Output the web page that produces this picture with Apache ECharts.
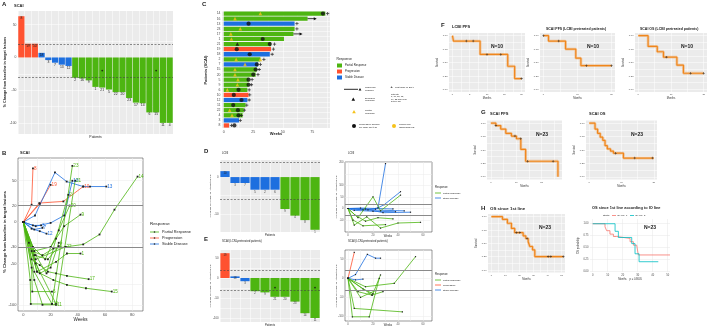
<!DOCTYPE html>
<html>
<head>
<meta charset="utf-8">
<script src="https://cdn.jsdelivr.net/npm/echarts@6/dist/echarts.min.js"></script>
<style>
html,body{margin:0;padding:0;background:#fff;}
#chart{width:709px;height:327px;}
</style>
</head>
<body>
<div id="chart"></div>
<script>
// ---- A: best change in target lesions (SCAI) ----
var waterfallIds  = ['8','19','10','18','3','7','13','12','2','16','9','1','21','5','22','20','23','17','14','6','15','11','4'];
var waterfallPct  = [63, 21, 21, 7, -4, -8, -11, -13, -31, -32, -35, -45, -46, -49, -53, -53, -62, -69, -70, -84, -84, -100, -100];
var waterfallResp = ['PD','PD','PD','SD','SD','SD','SD','SD','PR','PR','PR','PR','PR','PR','PR','PR','PR','PR','PR','PR','PR','PR','PR'];
var starIdsA = ['21','15'];
var starPctA = [-20, -20];

// ---- B: spider plot (SCAI) ----
var spiderIds  = ['8','19','10','13','18','7','12','3','23','21','14','9','1','17','15','6','5','16','2','20','22','11','4'];
var spiderResp = ['PD','PD','PD','SD','SD','SD','SD','SD','PR','PR','PR','PR','PR','PR','PR','PR','PR','PR','PR','PR','PR','PR','PR'];
var spiderWeeks = [
  [0,6,7],[0,12,20],[0,11.7,29.4,44],[0,8.5,23.2,31.8,44,49,61],[0,9,20,30,36],[0,8,14],[0,6,12,17],[0,7,13],
  [0,8,21,36],[0,9,24,38],[0,9,31,44,56,67,84],[0,8,20,30,42],[0,10,24,32,42],[0,6,12,18,24,32,48],
  [0,10,22,32,46,65],[0,6,6.5,21],[0,8,18,26],[0,5,5.4,21],[0,9,17,24,33],[0,7,16,26,34],[0,6,14,22,31],
  [0,8,14,24],[0,4,12,20,26]
];
var spiderPct = [
  [0,21,65],[0,22,45],[0,23,25,43],[0,8,60,49,43,43,43],[0,-5,-1,8,50],[0,-9,-7],[0,-8,-11,-14],[0,-4,-4],
  [0,-60,-99,68],[0,-50,-99,50],[0,-45,-30,-27,-15,15,55],[0,-35,-30,-5,9],[0,-60,-48,-38,-38],[0,-45,-52,-60,-62,-65,-69],
  [0,-60,-70,-76,-80,-84],[0,-55,-84,-84],[0,-40,-45,-29],[0,-70,-99,-99],[0,-40,-62,-20,33],[0,-30,-45,-10,20],[0,-35,-40,-32,-30],
  [0,-70,-100,-100],[0,-25,-62,-55,-25]
];

// ---- C: swimmer plot ----
var swimIds   = ['14','16','13','23','17','1','21','19','18','2','7','15','20','5','9','6','10','12','11','22','4','3','8'];
var swimWeeks = [86,71,60,60,59,51,40,40,39,31,29,28,27,21,21,20,21,20,18.5,17,16,13,4.5];
var swimResp  = ['PR','PR','SD','PR','PR','PR','PR','PD','SD','PR','SD','PR','PR','PR','PR','PR','PD','SD','PR','PR','PR','SD','PD'];
var partialRespWeek = [31,9.5,14,6,6.5,10.5,31,18,9.5,9.5,12,11.5,3,5,7];
var partialRespId   = ['14','16','23','17','1','2','2','7','15','20','5','9','6','22','4'];
var excludedWeek = [11.5];
var excludedId   = ['21'];
var progWeek = [84,21,33,39,11,22,28,27,25,21,21,12.5,8.5,15,8,12,12.5,9];
var progId   = ['14','13','1','21','19','18','7','15','20','5','9','6','10','12','11','22','4','8'];
var lastDoseWeek = [88,62,62,43,42,41,34,31,30,29,24,23.5,21.5,22,21.5,19.5,17.5,15,14,6.5];
var lastDoseId   = ['14','13','23','21','19','18','2','7','15','20','5','9','6','10','12','11','22','4','3','8'];
var ongoingWeek = [71,59];
var ongoingId   = ['16','17'];

// ---- D: LCNI ----
var lcniIds  = ['10','3','7','5','2','6','9','4','8','1'];
var lcniPct  = [8,-8,-8,-17,-17,-17,-43,-52,-58,-71];
var lcniResp = ['SD','SD','SD','SD','SD','SD','PR','PR','PR','PR'];
var lcniWeeks = [[0,16,24,30],[0,22,29,42],[0,12,45],[0,10,36],[0,5,20,38],[0,14,28,50],
                 [0,5,15,26,40,58],[0,8,20,26,42],[0,6,14,24,36],[0,4,12,30]];
var lcniTraj  = [[0,-6,3,195],[0,-3,17,73],[0,-6,-10],[0,2,-2],[0,-8,-12,-14],[0,-2,-18,-16],
                 [0,-72,-36,-85,-63,-60],[0,-40,51,-10,58],[0,-30,-55,-40,-45],[0,-50,-75,-70]];

// ---- E: SCAI in LCNI-pretreated patients ----
var preIds  = ['19','18','3','2','9','21','20','23','14','11'];
var prePct  = [62,4,-8,-33,-36,-47,-47,-59,-88,-100];
var preResp = ['PD','SD','SD','PR','PR','PR','PR','PR','PR','PR'];
var starIdsE = ['21','11'];
var starPctE = [-24,-24];
var preWeeks = [[0,5],[0,6,15.5,22,26],[0,6,12],[0,14,37,54],[0,19.5,26],[0,5,43.5],[0,3.5,17,25],[0,8,19,28],[0,10,22,28],[0,12,20]];
var preTraj  = [[0,68],[0,10,63,53,53],[0,-4,-2],[0,-22,-13,57],[0,-44,9],[0,-79,-88],[0,-101,-101,0],[0,-35,-44,-35],[0,-50,-32,-32],[0,-28,-40]];
var preTrajResp = ['PD','SD','SD','PR','PR','PR','PR','PR','PR','PR'];

// ---- F/G/H: Kaplan-Meier steps ----
var f1Time = [0,0.3,8,16,18,20];            var f1Surv = [1,0.9,0.65,0.43,0.2,0.2];
var f1CensT = [4,6,10,14,20];               var f1CensS = [0.9,0.9,0.65,0.65,0.2];
var f2Time = [0,1.5,6.5,9.5,11,20];         var f2Surv = [1,0.9,0.75,0.58,0.44,0.44];
var f2CensT = [0,4.5,12.6,20];              var f2CensS = [1,0.9,0.44,0.44];
var f3Time = [0,3,5.8,7.7,11.8,13.8,20];    var f3Surv = [1,0.8,0.7,0.6,0.45,0.3,0.3];
var f3CensT = [8.6,16,20];                  var f3CensS = [0.6,0.3,0.3];
var g1Time = [0,2,3.9,5.9,8.1,10.1,11.8,13.7,26.4]; var g1Surv = [1,0.955,0.89,0.81,0.76,0.71,0.51,0.29,0];
var g1CensT = [2,9.5,11.8,14.5,24.5];      var g1CensS = [0.955,0.76,0.71,0.29,0.29];
var g2Time = [0,1.8,2.6,3.4,4.2,4.9,5.6,6.6,7.5,10.6,20]; var g2Surv = [1,0.89,0.81,0.74,0.68,0.58,0.52,0.48,0.44,0.35,0.35];
var g2CensT = [8.2,14.1,19.6];             var g2CensS = [0.44,0.35,0.35];
var h1Time = [0,7.9,11.4,14.3,16.6,22.6,24.5,26.2,27.4,29.3,30.9,51.2];
var h1Surv = [1,0.95,0.876,0.78,0.70,0.64,0.59,0.53,0.44,0.375,0.25,0.25];
var h1CensT = [17.9,20.2,25.4,40.4,42.3,51.2]; var h1CensS = [0.70,0.70,0.59,0.25,0.25,0.25];
var h2aTime = [0,8.2,9.3,11.5,13.8,16,24.9,27.1,29.3,30.4,51.5];
var h2aSurv = [1,0.934,0.853,0.78,0.73,0.69,0.62,0.547,0.51,0.34,0.34];
var h2bTime = [0,14.9,17.1,26,28.2,30.9,43.7];
var h2bSurv = [1,0.84,0.71,0.58,0.365,0.197,0.197];

var FONT = '"Liberation Sans", Arial, sans-serif';
var RED = '#FF5230', BLUE = '#1D6FDF', GREEN = '#4DB511', ORANGE = '#F0861C', YELLOW = '#F6C21A';
var RC = {PR: GREEN, PD: RED, SD: BLUE};
var GRAYBG = '#EBEBEB';
var PLUS = 'path://M3,0H5V3H8V5H5V8H3V5H0V3H3Z';

var chart = echarts.init(document.getElementById('chart'));

function grid(l, t, w, h, bw) {
    return {left: l, top: t, width: w, height: h, show: true, containLabel: false,
        backgroundColor: bw ? '#FFFFFF' : GRAYBG, borderColor: '#333', borderWidth: bw ? 0.5 : 0};
}

function vAxis(gi, min, max, labels, ticks, o) {
    o = o || {};
    return {
        type: 'value', gridIndex: gi, min: min, max: max,
        axisLine: {show: false},
        axisTick: {show: false, customValues: ticks},
        axisLabel: {customValues: labels, fontSize: o.fs || 3, color: '#4D4D4D', margin: 1.5,
            fontFamily: FONT, formatter: o.fmt},
        splitLine: {show: true, lineStyle: {color: o.gc || '#FFFFFF', width: 0.5}},
        name: o.name || '', nameLocation: 'middle', nameGap: o.gap || 5,
        nameTextStyle: {fontSize: 2.6, color: '#333', fontFamily: FONT}
    };
}

function cAxis(gi, data, o) {
    o = o || {};
    return {
        type: 'category', gridIndex: gi, data: data, inverse: !!o.inverse,
        axisLine: {show: false}, axisTick: {show: false},
        axisLabel: {show: !!o.labels, fontSize: 3.4, color: '#4D4D4D', margin: 1.5, interval: 0, fontFamily: FONT},
        splitLine: {show: true, lineStyle: {color: '#FFFFFF', width: 0.5}}
    };
}

function kmFmt(v) { return v.toFixed(2); }

function barSeries(gi, vals, resp, ids, fs) {
    return {
        type: 'bar', xAxisIndex: gi, yAxisIndex: gi, barCategoryGap: '8%',
        data: vals.map(function (v, i) {
            return {value: v, itemStyle: {color: RC[resp[i]]}, label: {position: v > 0 ? 'insideTop' : 'bottom'}};
        }),
        label: {show: true, fontSize: fs, color: '#222', distance: 0.6, fontFamily: FONT,
            formatter: function (p) { return ids[p.dataIndex]; }},
        markLine: {silent: true, symbol: 'none', label: {show: false},
            lineStyle: {type: [2, 1.5], color: '#444', width: 0.6}, data: [{yAxis: 20}, {yAxis: -30}]}
    };
}

function starSeries(gi, ids, vals) {
    return {type: 'scatter', xAxisIndex: gi, yAxisIndex: gi, symbol: 'circle', symbolSize: 1.8,
        itemStyle: {color: '#111'}, z: 5,
        data: ids.map(function (id, i) { return [id, vals[i]]; })};
}

function spiderSeries(gi, weeks, pcts, resp, ids, labelSize, ptSize) {
    return weeks.map(function (w, i) {
        var s = {
            type: 'line', xAxisIndex: gi, yAxisIndex: gi, z: 3,
            data: w.map(function (x, j) { return [x, pcts[i][j]]; }),
            symbol: 'rect', symbolSize: ptSize, itemStyle: {color: '#222'},
            lineStyle: {color: RC[resp[i]], width: 0.8}
        };
        if (ids) {
            s.endLabel = {show: true, color: RC[resp[i]], fontSize: labelSize, distance: 1, fontFamily: FONT,
                formatter: function () { return ids[i]; }};
        }
        return s;
    });
}

function hlines(gi) {
    return {type: 'line', xAxisIndex: gi, yAxisIndex: gi, data: [], z: 2,
        markLine: {silent: true, symbol: 'none', label: {show: false},
            lineStyle: {color: '#8A8A8A', width: 1, type: 'solid'}, data: [{yAxis: 20}, {yAxis: -30}]}};
}

function kmSeries(gi, T, S, color, width, halo) {
    var data = T.map(function (t, i) { return [t, S[i]]; });
    var out = [];
    if (halo) {
        out.push({type: 'line', xAxisIndex: gi, yAxisIndex: gi, step: 'end', symbol: 'none', data: data,
            lineStyle: {color: color, width: width + 1.6, opacity: 0.35}});
    }
    out.push({type: 'line', xAxisIndex: gi, yAxisIndex: gi, step: 'end', symbol: 'none', data: data,
        lineStyle: {color: color, width: width}});
    return out;
}

function censorSeries(gi, T, S, color, size) {
    return {type: 'scatter', xAxisIndex: gi, yAxisIndex: gi, symbol: PLUS, symbolSize: size || 2.4, z: 5,
        itemStyle: {color: color || '#222'},
        data: T.map(function (t, i) { return [t, S[i]]; })};
}

function txt(x, y, s, size, o) {
    o = o || {};
    return {type: 'text', x: x, y: y, rotation: o.rot || 0, z: 100, silent: true,
        style: {text: s, fontSize: size, fontFamily: FONT, fontWeight: o.bold ? 'bold' : 'normal',
            fill: o.color || '#1A1A1A', align: o.align || 'left', verticalAlign: o.va || 'top',
            lineHeight: o.lh || size * 1.1}};
}
function rtxt(x, y, s, size, bold) {
    return txt(x, y, s, size, {rot: Math.PI / 2, align: 'center', va: 'middle', bold: bold});
}
function rect(x, y, w, h, c) { return {type: 'rect', shape: {x: x, y: y, width: w, height: h}, style: {fill: c}, silent: true}; }
function seg(x1, y1, x2, y2, c, w) { return {type: 'line', shape: {x1: x1, y1: y1, x2: x2, y2: y2}, style: {stroke: c, lineWidth: w || 0.8}, silent: true}; }
function tri(x, y, r, c) { return {type: 'polygon', shape: {points: [[x, y - r], [x - r, y + r * 0.8], [x + r, y + r * 0.8]]}, style: {fill: c}, silent: true}; }
function dot(x, y, r, c) { return {type: 'circle', shape: {cx: x, cy: y, r: r}, style: {fill: c}, silent: true}; }

var grids = [
    grid(18, 11, 155, 123, false),      // 0 A
    grid(18, 158, 125, 153, true),      // 1 B
    grid(222, 11, 108, 117, false),     // 2 C
    grid(220, 160, 100, 72, false),     // 3 D left
    grid(345, 162, 87, 70, true),       // 4 D right
    grid(220, 250, 100, 72, false),     // 5 E left
    grid(345, 250, 87, 71, true),       // 6 E right
    grid(449, 33, 76, 59, false),       // 7 F1
    grid(540, 33, 75, 59, false),       // 8 F2
    grid(635, 33, 72, 59, false),       // 9 F3
    grid(487, 120.5, 75, 59, false),    // 10 G1
    grid(586, 120.5, 71, 59, false),    // 11 G2
    grid(488, 214, 77, 58.6, false),    // 12 H1
    grid(590, 219, 80, 53, true)        // 13 H2
];
grids[13].borderWidth = 0;

var kmTicks = [0, 0.125, 0.25, 0.375, 0.5, 0.625, 0.75, 0.875, 1];
var kmLabels = [0, 0.25, 0.5, 0.75, 1];

var xAxes = [
    cAxis(0, waterfallIds),
    vAxis(1, -4, 88, [0, 20, 40, 60, 80], [0, 10, 20, 30, 40, 50, 60, 70, 80], {gc: '#EBEBEB', fs: 4}),
    vAxis(2, -1.5, 90, [0, 25, 50, 75], [0, 12.5, 25, 37.5, 50, 62.5, 75, 87.5], {fs: 3.6}),
    cAxis(3, lcniIds),
    vAxis(4, -2.4, 67.2, [0, 20, 40, 60], [0, 10, 20, 30, 40, 50, 60], {gc: '#EBEBEB', fs: 2.6}),
    cAxis(5, preIds),
    vAxis(6, -2.4, 67.2, [0, 20, 40, 60], [0, 10, 20, 30, 40, 50, 60], {gc: '#EBEBEB', fs: 2.6}),
    vAxis(7, -1, 21, [0, 5, 10, 15, 20], [0, 2.5, 5, 7.5, 10, 12.5, 15, 17.5, 20], {fs: 2.4, name: 'Months', gap: 5}),
    vAxis(8, -1, 21, [0, 10, 20], [0, 5, 10, 15, 20], {fs: 2.4, name: 'Months', gap: 5}),
    vAxis(9, -1, 21, [0, 10, 20], [0, 5, 10, 15, 20], {fs: 2.4, name: 'Months', gap: 5}),
    vAxis(10, -1.5, 28, [0, 10, 20], [0, 5, 10, 15, 20, 25], {fs: 2.4, name: 'Months', gap: 5}),
    vAxis(11, -1, 21, [0, 10, 20], [0, 5, 10, 15, 20], {fs: 2.4, name: 'Months', gap: 5}),
    vAxis(12, -2.4, 52.4, [0, 10, 20, 30, 40, 50], [0, 5, 10, 15, 20, 25, 30, 35, 40, 45, 50], {fs: 2.4, name: 'Months', gap: 5}),
    vAxis(13, -1.8, 51.5, [0, 10, 20, 30, 40, 50], [0, 10, 20, 30, 40, 50], {gc: '#E6E6E6', fs: 2.6, name: 'Months    p = 0.8605', gap: 5})
];

var yAxes = [
    vAxis(0, -117, 71, [-100, -50, 0, 50], [-100, -75, -50, -25, 0, 25, 50], {fs: 3.4}),
    vAxis(1, -107.5, 77.5, [-100, -50, -30, 0, 20, 50], [-100, -75, -50, -25, 0, 25, 50, 75], {gc: '#EBEBEB', fs: 4}),
    cAxis(2, swimIds, {inverse: true, labels: true}),
    vAxis(3, -74, 23, [-50, 0], [-50, -25, 0], {fs: 2.8}),
    vAxis(4, -102, 202, [-50, 0, 50, 100, 200], [-50, 0, 50, 100, 150, 200], {gc: '#EBEBEB', fs: 2.6}),
    vAxis(5, -110, 70, [-100, -50, 0, 50], [-100, -75, -50, -25, 0, 25, 50], {fs: 2.8}),
    vAxis(6, -112, 74.5, [-100, -50, 0, 50], [-100, -50, 0, 50], {gc: '#EBEBEB', fs: 2.6}),
    vAxis(7, -0.05, 1.05, kmLabels, kmTicks, {fs: 2.4, fmt: kmFmt, name: 'Survival', gap: 8}),
    vAxis(8, -0.05, 1.05, kmLabels, kmTicks, {fs: 2.4, fmt: kmFmt, name: 'Survival', gap: 8}),
    vAxis(9, -0.05, 1.05, kmLabels, kmTicks, {fs: 2.4, fmt: kmFmt, name: 'Survival', gap: 8}),
    vAxis(10, -0.05, 1.05, kmLabels, kmTicks, {fs: 2.4, fmt: kmFmt, name: 'Survival', gap: 8}),
    vAxis(11, -0.05, 1.05, kmLabels, kmTicks, {fs: 2.4, fmt: kmFmt, name: 'Survival', gap: 8}),
    vAxis(12, -0.05, 1.05, kmLabels, kmTicks, {fs: 2.4, fmt: kmFmt, name: 'Survival', gap: 8}),
    vAxis(13, -0.02, 1.1, kmLabels, kmLabels, {gc: '#E6E6E6', fs: 2.6, fmt: kmFmt, name: 'OS probability', gap: 9})
];

var series = [];
// A
series.push(barSeries(0, waterfallPct, waterfallResp, waterfallIds, 3.4));
series.push(starSeries(0, starIdsA, starPctA));
// B
series.push(hlines(1));
series = series.concat(spiderSeries(1, spiderWeeks, spiderPct, spiderResp, spiderIds, 4.6, 1.8));
// C
series.push({type: 'bar', xAxisIndex: 2, yAxisIndex: 2, barCategoryGap: '16%',
    data: swimWeeks.map(function (w, i) { return {value: w, itemStyle: {color: RC[swimResp[i]]}}; })});
series.push({type: 'scatter', xAxisIndex: 2, yAxisIndex: 2, symbol: 'triangle', symbolSize: 3.6, z: 5,
    itemStyle: {color: YELLOW}, data: partialRespWeek.map(function (w, i) { return [w, partialRespId[i]]; })});
series.push({type: 'scatter', xAxisIndex: 2, yAxisIndex: 2, symbol: 'triangle', symbolSize: 3.6, z: 5,
    itemStyle: {color: '#111'}, data: excludedWeek.map(function (w, i) { return [w, excludedId[i]]; })});
series.push({type: 'scatter', xAxisIndex: 2, yAxisIndex: 2, symbol: 'circle', symbolSize: 4.2, z: 5,
    itemStyle: {color: '#111'}, data: progWeek.map(function (w, i) { return [w, progId[i]]; })});
series.push({type: 'scatter', xAxisIndex: 2, yAxisIndex: 2, symbol: PLUS, symbolSize: 3.2, z: 5,
    itemStyle: {color: '#111'}, data: lastDoseWeek.map(function (w, i) { return [w, lastDoseId[i]]; })});
ongoingWeek.forEach(function (w, i) {
    series.push({type: 'line', xAxisIndex: 2, yAxisIndex: 2, z: 5, lineStyle: {color: '#111', width: 0.8},
        itemStyle: {color: '#111'},
        data: [{value: [w, ongoingId[i]], symbol: 'none'},
               {value: [w + 6.5, ongoingId[i]], symbol: 'triangle', symbolSize: 3, symbolRotate: -90}]});
});
// D
series.push(barSeries(3, lcniPct, lcniResp, lcniIds, 2.6));
series.push(hlines(4));
series = series.concat(spiderSeries(4, lcniWeeks, lcniTraj, lcniResp, null, 0, 1.2));
// E
series.push(barSeries(5, prePct, preResp, preIds, 2.6));
series.push(starSeries(5, starIdsE, starPctE));
series.push(hlines(6));
series = series.concat(spiderSeries(6, preWeeks, preTraj, preTrajResp, null, 0, 1.2));
// F, G, H
series = series.concat(kmSeries(7, f1Time, f1Surv, ORANGE, 1.2, true));
series.push(censorSeries(7, f1CensT, f1CensS));
series = series.concat(kmSeries(8, f2Time, f2Surv, ORANGE, 1.2, true));
series.push(censorSeries(8, f2CensT, f2CensS));
series = series.concat(kmSeries(9, f3Time, f3Surv, ORANGE, 1.2, true));
series.push(censorSeries(9, f3CensT, f3CensS));
series = series.concat(kmSeries(10, g1Time, g1Surv, ORANGE, 1.2, true));
series.push(censorSeries(10, g1CensT, g1CensS));
series = series.concat(kmSeries(11, g2Time, g2Surv, ORANGE, 1.2, true));
series.push(censorSeries(11, g2CensT, g2CensS));
series = series.concat(kmSeries(12, h1Time, h1Surv, ORANGE, 1.2, true));
series.push(censorSeries(12, h1CensT, h1CensS));
series = series.concat(kmSeries(13, h2aTime, h2aSurv, '#F8766D', 0.8, false));
series = series.concat(kmSeries(13, h2bTime, h2bSurv, '#00BFC4', 0.8, false));

var yAxisTitle = '% Change from baseline in target lesions';
var graphics = [
    // A
    txt(2, 1, 'A', 6, {bold: true}), txt(14, 4, 'SCAI', 4, {bold: true}),
    rtxt(5, 72, yAxisTitle, 3.6, true), txt(95.5, 135.5, 'Patients', 3.4, {align: 'center'}),
    // B
    txt(2, 150, 'B', 6, {bold: true}), txt(20, 151, 'SCAI', 4, {bold: true}),
    rtxt(5, 232, yAxisTitle, 4.2, true), txt(80.5, 317.3, 'Weeks', 4.6, {align: 'center'}),
    txt(150, 221, 'Response', 4.4),
    seg(150, 232, 159, 232, GREEN), dot(154.5, 232, 0.8, '#222'), txt(162, 232, 'Partial Response', 3.8, {va: 'middle'}),
    seg(150, 238, 159, 238, RED), dot(154.5, 238, 0.8, '#222'), txt(162, 238, 'Progression', 3.8, {va: 'middle'}),
    seg(150, 244, 159, 244, BLUE), dot(154.5, 244, 0.8, '#222'), txt(162, 244, 'Stable Disease', 3.8, {va: 'middle'}),
    // C
    txt(202, 1, 'C', 6, {bold: true}),
    rtxt(206, 70, 'Patients (SCAI)', 4, true), txt(276, 132, 'Weeks', 4, {align: 'center', bold: true}),
    txt(336.5, 57.5, 'Response', 3.4),
    rect(337, 63.5, 5, 4, GREEN), txt(345, 65.5, 'Partial Response', 2.8, {va: 'middle'}),
    rect(337, 69.5, 5, 4, RED), txt(345, 71.5, 'Progression', 2.8, {va: 'middle'}),
    rect(337, 75.5, 5, 4, BLUE), txt(345, 77.5, 'Stable Disease', 2.8, {va: 'middle'}),
    seg(344, 89.3, 358, 89.3, '#111', 0.9), tri(360, 89.3, 1.4, '#111'),
    txt(365, 89, 'Response\nongoing', 2.4, {va: 'middle'}),
    tri(353.3, 99.3, 1.8, '#111'), txt(365, 99.5, 'Excluded\nresponse', 2.4, {va: 'middle'}),
    tri(354, 111.7, 1.8, YELLOW), txt(365, 112, 'Partial\nresponse', 2.4, {va: 'middle'}),
    txt(391.7, 87.3, '+', 3.8, {align: 'center', va: 'middle', bold: true}), txt(395, 87.3, 'Last dose of SCAI', 2.4, {va: 'middle'}),
    txt(391, 93, 'patients\n8, 10, 12, 15,\n19, 22 final dose\nbefore PD', 2.2),
    dot(354, 126, 2, '#111'), txt(359, 126, 'Progressive disease\nper LBCI PD \u2265 20', 2.3, {va: 'middle'}),
    dot(394, 126, 2, YELLOW), txt(399, 126, 'Clinical non-\nradiological PD', 2.3, {va: 'middle'}),
    // D
    txt(204, 148, 'D', 6, {bold: true}), txt(222, 151.5, 'LCNI', 2.8), txt(348, 151.5, 'LCNI', 2.8),
    rtxt(210, 196, '% change from baseline in target lesions', 2.4, false),
    rtxt(336, 197, '% change from baseline in target lesions', 2.4, false),
    txt(270, 234, 'Patients', 2.8, {align: 'center'}), txt(388, 235, 'Weeks', 2.8, {align: 'center'}),
    txt(435, 186, 'Response', 2.8),
    seg(435, 193, 441, 193, GREEN), txt(443, 193, 'Partial Response', 2.3, {va: 'middle'}),
    seg(435, 198, 441, 198, BLUE), txt(443, 198, 'Stable Disease', 2.3, {va: 'middle'}),
    // E
    txt(204, 236, 'E', 6, {bold: true}),
    txt(222, 239.5, 'SCAI (LCNI-pretreated patients)', 2.8), txt(348, 239.5, 'SCAI (LCNI-pretreated patients)', 2.8),
    rtxt(210, 286, '% change from baseline in target lesions', 2.4, false),
    rtxt(336, 286, '% change from baseline in target lesions', 2.4, false),
    txt(270, 323.5, 'Patients', 2.8, {align: 'center'}), txt(388, 323.5, 'Weeks', 2.8, {align: 'center'}),
    txt(435, 273, 'Response', 2.8),
    seg(435, 280, 441, 280, GREEN), txt(443, 280, 'Partial Response', 2.3, {va: 'middle'}),
    seg(435, 285, 441, 285, RED), txt(443, 285, 'Progression', 2.3, {va: 'middle'}),
    seg(435, 290, 441, 290, BLUE), txt(443, 290, 'Stable Disease', 2.3, {va: 'middle'}),
    // F
    txt(441, 22, 'F', 6, {bold: true}), txt(452, 25, 'LCBI PFS', 4, {bold: true}),
    txt(546, 27, 'SCAI PFS (LCBI pretreated patients)', 3.5, {bold: true}),
    txt(640, 27, 'SCAI OS (LCBI pretreated patients)', 3.5, {bold: true}),
    txt(497, 47, 'N=10', 5, {bold: true, align: 'center', va: 'middle'}),
    txt(593, 47, 'N=10', 5, {bold: true, align: 'center', va: 'middle'}),
    txt(687, 47, 'N=10', 5, {bold: true, align: 'center', va: 'middle'}),
    // G
    txt(481, 109, 'G', 6, {bold: true}), txt(490, 112, 'SCAI PFS', 4, {bold: true}), txt(589, 112, 'SCAI OS', 4, {bold: true}),
    txt(542, 135, 'N=23', 5, {bold: true, align: 'center', va: 'middle'}),
    txt(637, 135, 'N=23', 5, {bold: true, align: 'center', va: 'middle'}),
    // H
    txt(481, 205, 'H', 6, {bold: true}), txt(490, 206, 'OS since 1st line', 4.4, {bold: true}),
    txt(592, 206, 'OS since 1st line according to IO line', 3.9, {bold: true}),
    txt(545, 228, 'N=23', 5, {bold: true, align: 'center', va: 'middle'}),
    txt(650, 228, 'N=23', 5, {bold: true, align: 'center', va: 'middle'}),
    txt(603, 215.5, 'Strata', 2.4, {va: 'middle'}),
    seg(612, 215.5, 616, 215.5, '#F8766D'), txt(617, 215.5, 'IO_line=1', 2.4, {va: 'middle'}),
    seg(630, 215.5, 634, 215.5, '#00BFC4'), txt(635, 215.5, 'IO_line=2', 2.4, {va: 'middle'})
];

chart.setOption({
    animation: false,
    textStyle: {fontFamily: FONT},
    grid: grids,
    xAxis: xAxes,
    yAxis: yAxes,
    series: series,
    graphic: {elements: graphics}
});
</script>
</body>
</html>
